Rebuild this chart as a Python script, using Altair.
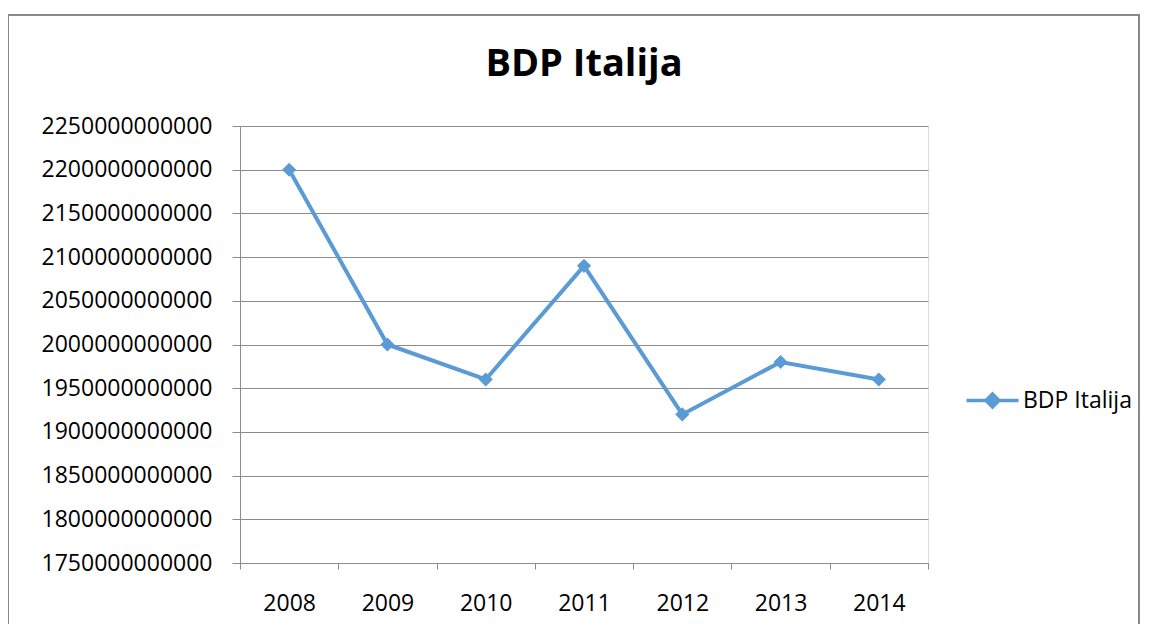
import altair as alt
import pandas as pd

years = [2008, 2009, 2010, 2011, 2012, 2013, 2014]
gdp = [2200e9, 2000e9, 1960e9, 2090e9, 1920e9, 1980e9, 1960e9]
series_name = "BDP Italija"
y_ticks = [1750e9 + 50e9 * i for i in range(11)]
x_bounds = [2007.5 + i for i in range(8)]

df = pd.DataFrame({"year": years, "gdp": gdp, "series": [series_name] * len(years)})

FONT = "Open Sans"
GRAY = "#8c8c8c"
BLUE = "#5B9BD5"
W, H = 688, 437

x_enc = alt.X(
    "year:Q",
    scale=alt.Scale(domain=[2007.5, 2014.5], nice=False, zero=False),
    axis=alt.Axis(
        title=None,
        values=x_bounds,
        labelExpr="datum.value < 2014.2 ? format(datum.value + 0.5, 'd') : ''",
        labelOffset=W / 14,
        labelFont=FONT,
        labelFontSize=23,
        labelColor="black",
        labelPadding=23,
        labelOverlap=False,
        labelFlush=False,
        tickSize=6,
        tickColor=GRAY,
        domainColor=GRAY,
        grid=False,
    ),
)
y_enc = alt.Y(
    "gdp:Q",
    scale=alt.Scale(domain=[1750e9, 2250e9], nice=False, zero=False),
    axis=alt.Axis(
        title=None,
        values=y_ticks,
        format="d",
        labelFont=FONT,
        labelFontSize=23,
        labelColor="black",
        labelPadding=20,
        tickSize=8,
        tickColor=GRAY,
        domainColor=GRAY,
        grid=True,
        gridColor=GRAY,
    ),
)
color_enc = alt.Color(
    "series:N",
    scale=alt.Scale(range=[BLUE]),
    legend=alt.Legend(
        title=None,
        orient="none",
        legendX=741,
        legendY=263,
        symbolType="M-4,0L4,0M0,-1L1,0L0,1L-1,0Z",
        symbolSize=169,
        symbolStrokeColor=BLUE,
        symbolFillColor=BLUE,
        symbolStrokeWidth=3.5,
        labelFont=FONT,
        labelFontSize=23,
        labelColor="black",
        labelOffset=19,
        padding=0,
    ),
)

line = alt.Chart(df).mark_line(strokeWidth=4).encode(x=x_enc, y=y_enc, color=color_enc)
points = alt.Chart(df).mark_point(
    shape="diamond", filled=True, size=200, opacity=1, color=BLUE
).encode(x="year:Q", y="gdp:Q")

border = alt.Chart(pd.DataFrame({"a": [0]})).mark_rect(
    fill=None, stroke="#888888", strokeWidth=2
).encode(
    x=alt.value(-232), x2=alt.value(899), y=alt.value(-111), y2=alt.value(560)
)

chart = alt.layer(border, line, points).properties(
    width=W,
    height=H,
    title=alt.TitleParams(
        text="BDP Italija",
        font=FONT,
        fontSize=38,
        fontWeight="bold",
        color="black",
        anchor="middle",
        frame="group",
        baseline="alphabetic",
        offset=-100,
    ),
    autosize=alt.AutoSizeParams(type="none"),
    padding={"left": 232, "top": 118, "right": 212, "bottom": 61},
).configure_view(stroke=None).configure(background="white")

chart.save("out.html", embed_options={"renderer": "svg", "actions": False})
